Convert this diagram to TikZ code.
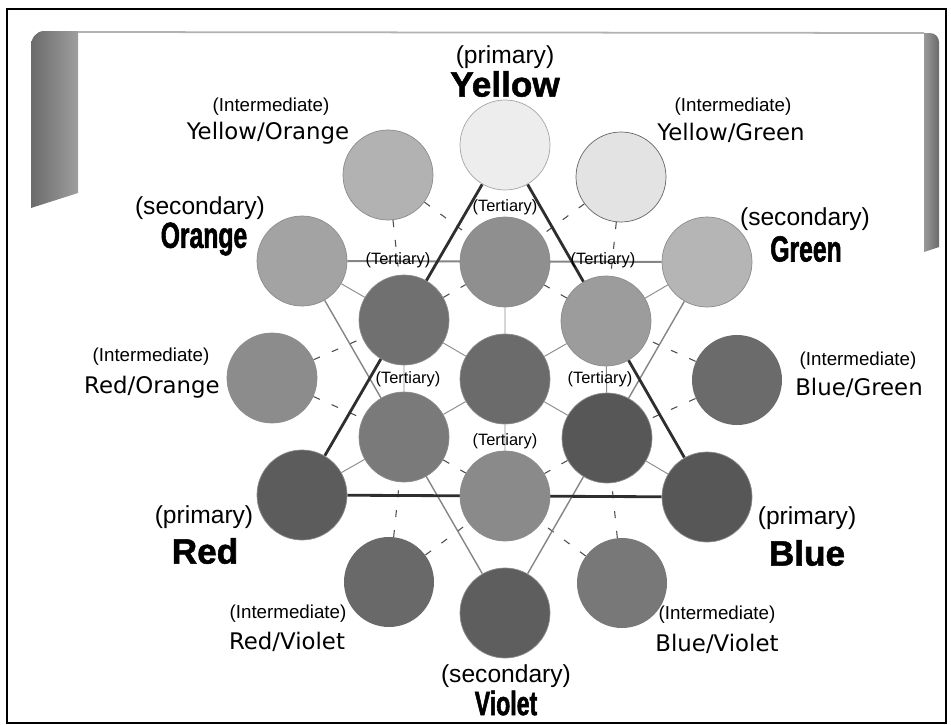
\documentclass[tikz,border=0pt]{standalone}
\usepackage{fontspec}
\setmainfont{Liberation Sans}
\newfontfamily\handfont{DejaVu Sans}
\newfontfamily\condfont[FakeStretch=0.68,FakeBold=1.5]{Liberation Sans}
\newfontfamily\heavyfont[FakeBold=1.5]{Liberation Sans}
\usetikzlibrary{positioning,backgrounds}

\begin{document}
\begin{tikzpicture}[x=0.03cm,y=-0.03cm,
  disc/.style={circle,minimum size=2.7cm,inner sep=0pt,draw=black!45,line width=0.6pt},
  prim/.style={line width=2.4pt,draw=black!82},
  sec/.style={line width=1.2pt,draw=black!48},
  link/.style={line width=0.8pt,draw=black!45},
  dlink/.style={line width=0.9pt,draw=black!70,dash pattern=on 6pt off 11pt},
  tert/.style={font=\fontsize{14}{14}\selectfont},
  kind/.style={font=\fontsize{21}{21}\selectfont},
  inter/.style={font=\fontsize{16}{16}\selectfont},
  hand/.style={font=\handfont\fontsize{19.5}{20}\selectfont},
  heavy/.style={font=\heavyfont\bfseries\fontsize{30}{30}\selectfont},
  cond/.style={font=\condfont\bfseries\fontsize{31}{31}\selectfont}]
\useasboundingbox (0,0) rectangle (951,724);
\draw[line width=2.2pt] (7,9) rectangle (946,723);
% banner
\shade[left color=black!58,right color=black!38] (31,46) to[out=90,in=180] (44,31) -- (78,31) -- (78,193) -- (31,208) -- cycle;
\draw[line width=1.5pt,black!30] (78,32) -- (924,33);
\shade[left color=black!40,right color=black!58] (924,33) -- (930,33) to[out=0,in=90] (939,42) -- (939,247) -- (924,252) -- cycle;
% colour discs
\node[disc,fill=black!7,draw=black!35] (yel) at (505,145) {};
\node[disc,fill=black!30] (yelora) at (388,175) {};
\node[disc,fill=black!11,draw=black!60] (yelgrn) at (621,177) {};
\node[disc,fill=black!36] (ora) at (302,261) {};
\node[disc,fill=black!44] (ttop) at (505,262) {};
\node[disc,fill=black!29] (grn) at (707,262) {};
\node[disc,fill=black!56] (tul) at (404,320) {};
\node[disc,fill=black!39] (tur) at (606,321) {};
\node[disc,fill=black!45] (redora) at (272,378) {};
\node[disc,fill=black!58] (mid) at (505,379) {};
\node[disc,fill=black!58,draw=none] (blugrn) at (737,380) {};
\node[disc,fill=black!52] (tll) at (404,437) {};
\node[disc,fill=black!66] (tlr) at (607,438) {};
\node[disc,fill=black!64] (red) at (302,495) {};
\node[disc,fill=black!46] (tbot) at (505,496) {};
\node[disc,fill=black!66] (blu) at (707,497) {};
\node[disc,fill=black!59,draw=none] (redvio) at (389,582) {};
\node[disc,fill=black!53,draw=none] (bluvio) at (622,583) {};
\node[disc,fill=black!63] (vio) at (505,613) {};
% connectors behind the discs
\begin{scope}[on background layer]
\draw[link] (mid) -- (ttop) (mid) -- (tul) (mid) -- (tur) (mid) -- (tll) (mid) -- (tlr) (mid) -- (tbot);
\draw[link] (ora) -- (tul) (grn) -- (tur) (red) -- (tll) (blu) -- (tlr) (tul) -- (tll) (tur) -- (tlr);
\draw[dlink] (yelora) -- (ttop) (yelora) -- (tul) (yelgrn) -- (ttop) (yelgrn) -- (tur);
\draw[dlink] (redora) -- (tul) (redora) -- (tll) (blugrn) -- (tur) (blugrn) -- (tlr);
\draw[dlink] (redvio) -- (tll) (redvio) -- (tbot) (bluvio) -- (tlr) (bluvio) -- (tbot);
\draw[dlink] (tul) -- (ttop) (tur) -- (ttop) (tll) -- (tbot) (tlr) -- (tbot);
\draw[sec,line width=1.6pt] (ora) -- (grn);
\draw[sec] (grn) -- (vio) (vio) -- (ora);
\draw[prim] (yel) -- (red) (red) -- (blu) (blu) -- (yel);
\end{scope}
% labels
\node[kind] (yelkind) at (505,57) {(primary)};
\node[heavy] (yelname) at (505,84) {Yellow};
\node[inter] (yorkind) at (271,107) {(Intermediate)};
\node[hand] (yorname) at (268,133) {Yellow/Orange};
\node[inter] (ygrkind) at (733,107) {(Intermediate)};
\node[hand] (ygrname) at (731,133) {Yellow/Green};
\node[kind] (orakind) at (200,208) {(secondary)};
\node[cond] (oraname) at (204,239) {Orange};
\node[kind] (grnkind) at (805,219) {(secondary)};
\node[cond] (grnname) at (806,249) {Green};
\node[inter] (rorkind) at (151,357) {(Intermediate)};
\node[hand] (rorname) at (152,387) {Red/Orange};
\node[inter] (bgrkind) at (858,361) {(Intermediate)};
\node[hand] (bgrname) at (859,388) {Blue/Green};
\node[kind] (redkind) at (204,517) {(primary)};
\node[heavy] (redname) at (205,551) {Red};
\node[kind] (blukind) at (807,518) {(primary)};
\node[heavy] (bluname) at (807,553) {Blue};
\node[inter] (rvikind) at (288,614) {(Intermediate)};
\node[hand] (rviname) at (287,642) {Red/Violet};
\node[inter] (bvikind) at (717,615) {(Intermediate)};
\node[hand] (bviname) at (717,644) {Blue/Violet};
\node[kind] (viokind) at (506,676) {(secondary)};
\node[cond,font=\condfont\bfseries\fontsize{29}{29}\selectfont] (vioname) at (506,703) {Violet};
% tertiary tags
\node[tert] (ttoptag) at (505,207) {(Tertiary)};
\node[tert] (tultag) at (398,260) {(Tertiary)};
\node[tert] (turtag) at (603,260) {(Tertiary)};
\node[tert] (tlltag) at (408,379) {(Tertiary)};
\node[tert] (tlrtag) at (600,379) {(Tertiary)};
\node[tert] (tbottag) at (505,441) {(Tertiary)};
\end{tikzpicture}
\end{document}
